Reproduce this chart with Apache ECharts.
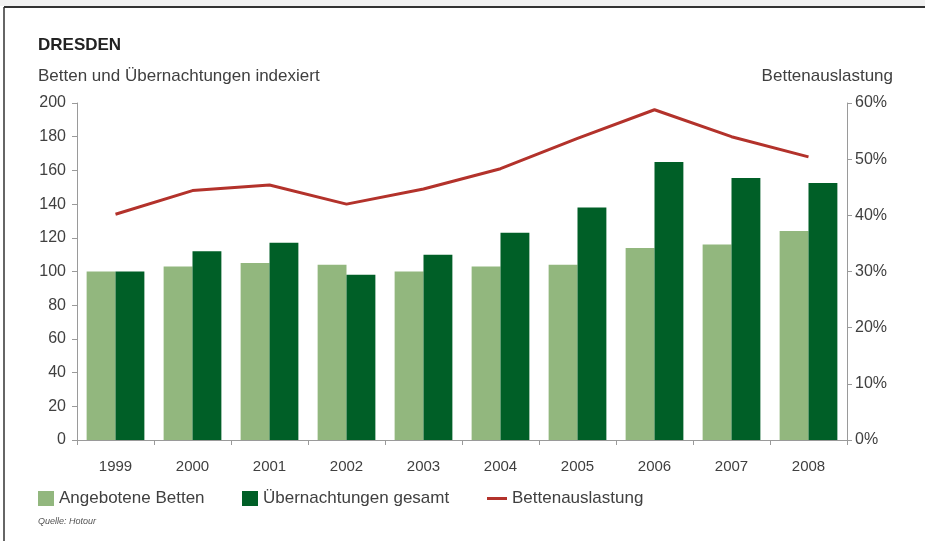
<!DOCTYPE html>
<html>
<head>
<meta charset="utf-8">
<script src="https://cdn.jsdelivr.net/npm/echarts@6/dist/echarts.min.js"></script>
<style>
  html, body { margin: 0; padding: 0; background: #fff; }
  #chart { width: 925px; height: 541px; }
</style>
</head>
<body>
<div id="chart"></div>
<script>
// Daten Dresden
const jahre = ["1999", "2000", "2001", "2002", "2003", "2004", "2005", "2006", "2007", "2008"];
const angeboteneBetten = [100, 103, 105, 104, 100, 103, 104, 114, 116, 124];
const uebernachtungen = [100, 112, 117, 98, 110, 123, 138, 165, 155.5, 152.5];
const auslastung = [40.2, 44.4, 45.4, 42.0, 44.7, 48.3, 53.7, 58.8, 54.0, 50.4];

const schrift = "Liberation Sans, Arial, sans-serif";
const textFarbe = "#404040";
const achsenFarbe = "#9a9a9a";

let myChart = echarts.init(document.getElementById("chart"));

const legendText = { fontSize: 17, color: textFarbe };

myChart.setOption({
  animation: false,
  textStyle: { fontFamily: schrift },
  graphic: [
    // Rahmen oben + links
    { type: "rect", shape: { x: 0, y: 0, width: 925, height: 6 }, style: { fill: "#f1f1f1" } },
    { type: "line", shape: { x1: 4, y1: 7, x2: 925, y2: 7 }, style: { stroke: "#333", lineWidth: 2 } },
    { type: "line", shape: { x1: 4, y1: 7, x2: 4, y2: 541 }, style: { stroke: "#333", lineWidth: 1.5 } },
    { type: "text", left: 38, top: 517, style: { text: "Quelle: Hotour", font: "italic 9px " + schrift, fill: "#555" } }
  ],
  title: [
    { text: "DRESDEN", left: 33, top: 32, textStyle: { fontSize: 17, fontWeight: "bold", color: "#222" } },
    { text: "Betten und Übernachtungen indexiert", left: 33, top: 63, textStyle: { fontSize: 17, fontWeight: "normal", color: textFarbe } },
    { text: "Bettenauslastung", right: 27, top: 63, textStyle: { fontSize: 17, fontWeight: "normal", color: textFarbe } }
  ],
  legend: [
    { left: 33, top: 485, itemWidth: 16, itemHeight: 15, icon: "rect", textStyle: legendText, data: ["Angebotene Betten"] },
    { left: 237, top: 485, itemWidth: 16, itemHeight: 15, icon: "rect", textStyle: legendText, data: ["Übernachtungen gesamt"] },
    { left: 482, top: 485, itemWidth: 20, itemHeight: 3, icon: "rect", textStyle: legendText, data: ["Bettenauslastung"] }
  ],
  grid: { left: 77, right: 78, top: 103, bottom: 101 },
  xAxis: {
    type: "category",
    data: jahre,
    axisLine: { lineStyle: { color: achsenFarbe } },
    axisTick: { show: true, length: 5, lineStyle: { color: achsenFarbe } },
    axisLabel: { color: textFarbe, fontSize: 15, margin: 19 }
  },
  yAxis: [
    {
      type: "value", min: 0, max: 200, interval: 20,
      axisLine: { show: true, lineStyle: { color: achsenFarbe } },
      axisTick: { show: true, length: 5, lineStyle: { color: achsenFarbe } },
      splitLine: { show: false },
      axisLabel: { color: textFarbe, fontSize: 16, margin: 11 }
    },
    {
      type: "value", min: 0, max: 60, interval: 10,
      axisLine: { show: true, lineStyle: { color: achsenFarbe } },
      axisTick: { show: true, length: 5, lineStyle: { color: achsenFarbe } },
      splitLine: { show: false },
      axisLabel: { color: textFarbe, fontSize: 16, margin: 8, formatter: "{value}%" }
    }
  ],
  series: [
    {
      name: "Angebotene Betten", type: "bar", data: angeboteneBetten,
      barGap: "0%", barCategoryGap: "25%",
      itemStyle: { color: "#92b77e" }
    },
    {
      name: "Übernachtungen gesamt", type: "bar", data: uebernachtungen,
      itemStyle: { color: "#005f27" }
    },
    {
      name: "Bettenauslastung", type: "line", yAxisIndex: 1, data: auslastung,
      symbol: "none",
      lineStyle: { color: "#b3322b", width: 3 },
      itemStyle: { color: "#b3322b" }
    }
  ]
});
</script>
</body>
</html>
